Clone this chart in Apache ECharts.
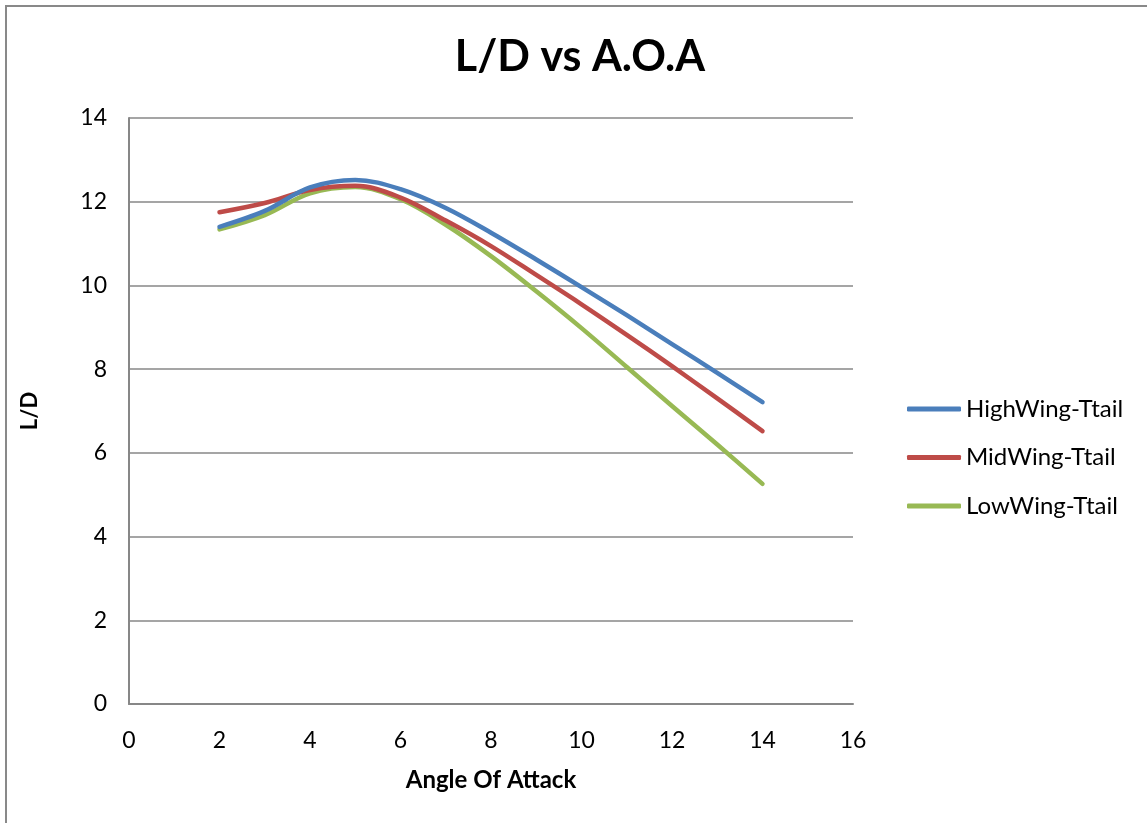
<!DOCTYPE html>
<html>
<head>
<meta charset="utf-8">
<title>L/D vs A.O.A</title>
<script src="https://cdn.jsdelivr.net/npm/echarts@6/dist/echarts.min.js"></script>
<style>
  html, body { margin: 0; padding: 0; background: #fff; }
  #chart { width: 1147px; height: 823px; }
</style>
</head>
<body>
<div id="chart"></div>
<script>
// Angle of attack (deg) and lift-to-drag ratio for three wing positions
const angleOfAttack = [2, 3, 4, 5, 6, 7, 8, 9, 10, 11, 12, 13, 14];
const highWingTtail = [11.40, 11.78, 12.34, 12.52, 12.30, 11.85, 11.26, 10.62, 9.96, 9.29, 8.60, 7.91, 7.21];
const midWingTtail  = [11.75, 11.97, 12.28, 12.38, 12.10, 11.55, 10.94, 10.25, 9.55, 8.82, 8.07, 7.30, 6.52];
const lowWingTtail  = [11.34, 11.68, 12.20, 12.35, 12.06, 11.45, 10.70, 9.86, 8.98, 8.05, 7.12, 6.20, 5.26];

const seriesNames = ['HighWing-Ttail', 'MidWing-Ttail', 'LowWing-Ttail'];
const seriesColors = ['#4A7EBB', '#BE4B48', '#98B954'];
const xTicks = { min: 0, max: 16, step: 2 };
const yTicks = { min: 0, max: 14, step: 2 };

const font = 'Lato, "Open Sans", "Noto Sans", sans-serif';

function pairs(values) {
  return angleOfAttack.map((x, i) => [x, values[i]]);
}

const chart = echarts.init(document.getElementById('chart'), null, { renderer: 'canvas' });

const lineSeries = [highWingTtail, midWingTtail, lowWingTtail].map((vals, i) => ({
  name: seriesNames[i],
  type: 'line',
  data: pairs(vals),
  smooth: 0.35,
  showSymbol: false,
  symbol: 'none',
  lineStyle: { color: seriesColors[i], width: 4.5, cap: 'round', join: 'round' },
  itemStyle: { color: seriesColors[i] },
  z: 10 - i
}));

chart.setOption({
  backgroundColor: '#ffffff',
  animation: false,
  textStyle: { fontFamily: font, color: '#000' },
  title: {
    text: 'L/D vs A.O.A',
    left: 575,
    textAlign: 'center',
    top: 31,
    textStyle: { fontFamily: font, fontSize: 43, fontWeight: 'bold', color: '#000' }
  },
  graphic: [{
    type: 'rect',
    shape: { x: 6, y: 6, width: 1160, height: 840 },
    style: { fill: 'none', stroke: '#898989', lineWidth: 2 },
    silent: true
  }],
  legend: {
    orient: 'vertical',
    left: 907,
    top: 397,
    padding: 0,
    itemWidth: 54,
    itemHeight: 5,
    itemGap: 24.5,
    icon: 'roundRect',
    data: seriesNames,
    textStyle: { fontFamily: font, fontSize: 24, color: '#000', lineHeight: 24 }
  },
  grid: { left: 129, right: 294, top: 118, bottom: 119, containLabel: false },
  xAxis: {
    type: 'value',
    min: xTicks.min,
    max: xTicks.max,
    interval: xTicks.step,
    name: 'Angle Of Attack',
    nameLocation: 'middle',
    nameGap: 64,
    nameTextStyle: { fontFamily: font, fontSize: 24, fontWeight: 'bold', color: '#000' },
    axisLine: { show: true, onZero: false, lineStyle: { color: '#878787', width: 2 } },
    axisTick: { show: false },
    axisLabel: { fontFamily: font, fontSize: 23, color: '#000', margin: 25 },
    splitLine: { show: false }
  },
  yAxis: {
    type: 'value',
    min: yTicks.min,
    max: yTicks.max,
    interval: yTicks.step,
    name: 'L/D',
    nameLocation: 'middle',
    nameRotate: 90,
    nameGap: 88,
    nameTextStyle: { fontFamily: font, fontSize: 22, fontWeight: 'bold', color: '#000' },
    axisLine: { show: true, onZero: false, lineStyle: { color: '#878787', width: 2 } },
    axisTick: { show: false },
    axisLabel: { fontFamily: font, fontSize: 23, color: '#000', margin: 22 },
    splitLine: { show: true, lineStyle: { color: '#878787', width: 1.5 } }
  },
  series: lineSeries
});
</script>
</body>
</html>
